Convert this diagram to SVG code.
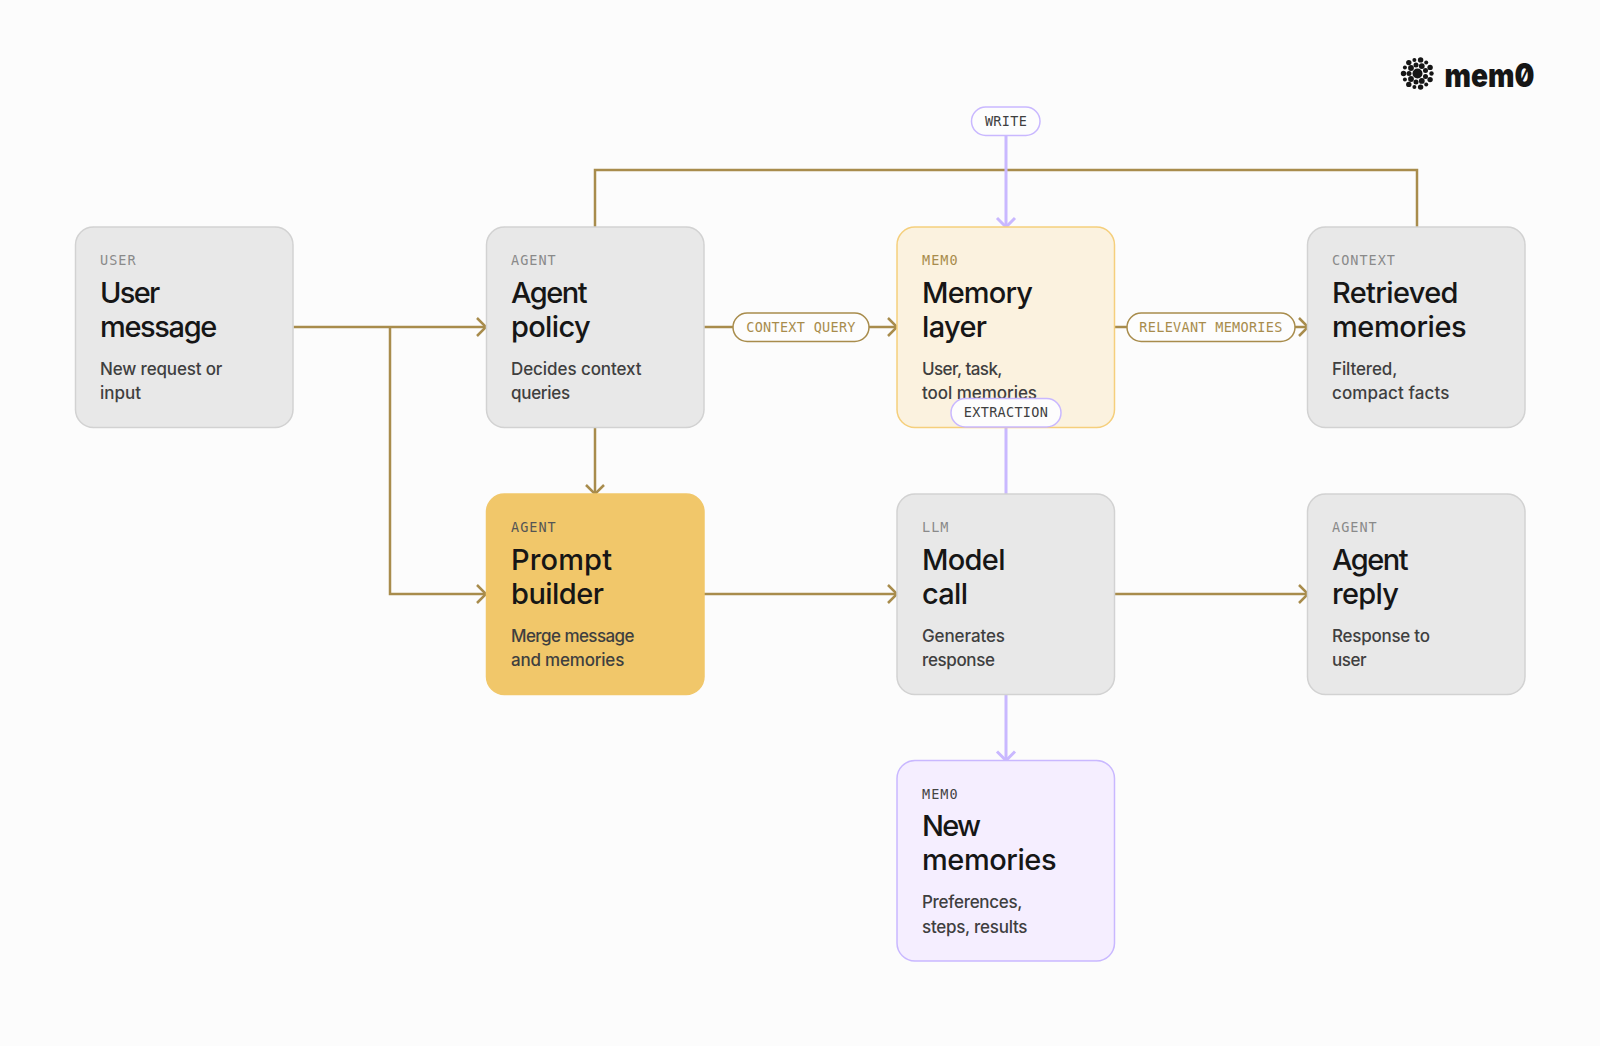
<svg xmlns="http://www.w3.org/2000/svg" width="1600" height="1046" viewBox="0 0 1600 1046">
<style>
.box{stroke-width:1.5}
.grey{fill:#e8e8e8;stroke:#d2d2d2}
.mem{fill:#fbf2df;stroke:#f5cf7c}
.pb{fill:#f1c76a;stroke:#f1c76a}
.nm{fill:#f5eeff;stroke:#c9b8ff}
.lab{font:13.500px "DejaVu Sans Mono",monospace;letter-spacing:1px}
.t{font:500 29px "Inter","Lato",sans-serif;fill:#161616}
.d{font:500 17px "Inter","Lato",sans-serif;fill:#3f3f3f}
.c{fill:none;stroke-width:2.500}
.br{stroke:#a88c4c}
.pu{stroke:#c9b8ff}
.cp{stroke-width:3}
.pill{fill:#fdfdfd;stroke-width:1.500}
.pl{font:13.500px "DejaVu Sans Mono",monospace;text-anchor:middle;letter-spacing:.3px}
</style>
<defs>
<marker id="ab" viewBox="0 0 12 22" refX="11" refY="11" markerWidth="12" markerHeight="22" markerUnits="userSpaceOnUse" orient="auto"><path d="M2 2L11 11L2 20" fill="none" stroke="#a88c4c" stroke-width="2.500"/></marker>
<marker id="ap" viewBox="0 0 12 22" refX="11" refY="11" markerWidth="12" markerHeight="22" markerUnits="userSpaceOnUse" orient="auto"><path d="M2 2L11 11L2 20" fill="none" stroke="#c9b8ff" stroke-width="3"/></marker>
</defs>
<rect width="1600" height="1046" fill="#fcfcfc"/>
<g id="connectors">
<path class="c br" d="M595 227V170H1417V227"/>
<path class="c br" d="M293.500 327H486" marker-end="url(#ab)"/>
<path class="c br" d="M390 327V594H486" marker-end="url(#ab)"/>
<path class="c br" d="M595 427V494" marker-end="url(#ab)"/>
<path class="c br" d="M704 327H897" marker-end="url(#ab)"/>
<path class="c br" d="M1115 327H1308" marker-end="url(#ab)"/>
<path class="c br" d="M704 594H897" marker-end="url(#ab)"/>
<path class="c br" d="M1115 594H1308" marker-end="url(#ab)"/>
<path class="c pu cp" d="M1006 135V227" marker-end="url(#ap)"/>
<path class="c pu cp" d="M1006 427V494"/>
<path class="c pu cp" d="M1006 694V760.500" marker-end="url(#ap)"/>
</g>
<g id="user-message"><rect class="box grey" x="75.500" y="227" width="217.500" height="200.500" rx="18"/><text class="lab" x="100" y="265" fill="#8a8a8a">USER</text><text class="t" x="100" y="303" textLength="60.200">User</text><text class="t" x="100" y="337" textLength="117.300">message</text><text class="d" x="100" y="375" textLength="122.400">New request or</text><text class="d" x="100" y="399" textLength="41">input</text></g>
<g id="agent-policy"><rect class="box grey" x="486.500" y="227" width="217.500" height="200.500" rx="18"/><text class="lab" x="511" y="265" fill="#8a8a8a">AGENT</text><text class="t" x="511" y="303" textLength="76.500">Agent</text><text class="t" x="511" y="337" textLength="79.600">policy</text><text class="d" x="511" y="375" textLength="130.600">Decides context</text><text class="d" x="511" y="399" textLength="59.200">queries</text></g>
<g id="memory-layer"><rect class="box mem" x="897" y="227" width="217.500" height="200.500" rx="18"/><text class="lab" x="922" y="265" fill="#a88c4c">MEM0</text><text class="t" x="922" y="303" textLength="111">Memory</text><text class="t" x="922" y="337" textLength="65">layer</text><text class="d" x="922" y="375" textLength="80.500">User, task,</text><text class="d" x="922" y="399" textLength="115">tool memories</text></g>
<g id="retrieved-memories"><rect class="box grey" x="1307.500" y="227" width="217.500" height="200.500" rx="18"/><text class="lab" x="1332" y="265" fill="#8a8a8a">CONTEXT</text><text class="t" x="1332" y="303" textLength="126.500">Retrieved</text><text class="t" x="1332" y="337" textLength="134.700">memories</text><text class="d" x="1332" y="375" textLength="65.300">Filtered,</text><text class="d" x="1332" y="399" textLength="117.300">compact facts</text></g>
<g id="prompt-builder"><rect class="box pb" x="486.500" y="494" width="217.500" height="200.500" rx="18"/><text class="lab" x="511" y="532" fill="#555">AGENT</text><text class="t" x="511" y="570" textLength="101">Prompt</text><text class="t" x="511" y="604" textLength="92.900">builder</text><text class="d" x="511" y="642" textLength="123.500">Merge message</text><text class="d" x="511" y="666" textLength="113.300">and memories</text></g>
<g id="model-call"><rect class="box grey" x="897" y="494" width="217.500" height="200.500" rx="18"/><text class="lab" x="922" y="532" fill="#8a8a8a">LLM</text><text class="t" x="922" y="570" textLength="83.500">Model</text><text class="t" x="922" y="604" textLength="46">call</text><text class="d" x="922" y="642" textLength="83">Generates</text><text class="d" x="922" y="666" textLength="73">response</text></g>
<g id="agent-reply"><rect class="box grey" x="1307.500" y="494" width="217.500" height="200.500" rx="18"/><text class="lab" x="1332" y="532" fill="#8a8a8a">AGENT</text><text class="t" x="1332" y="570" textLength="76.500">Agent</text><text class="t" x="1332" y="604" textLength="67">reply</text><text class="d" x="1332" y="642" textLength="98">Response to</text><text class="d" x="1332" y="666" textLength="34.700">user</text></g>
<g id="new-memories"><rect class="box nm" x="897" y="760.500" width="217.500" height="200.500" rx="18"/><text class="lab" x="922" y="799" fill="#444">MEM0</text><text class="t" x="922" y="836" textLength="59">New</text><text class="t" x="922" y="870" textLength="134.500">memories</text><text class="d" x="922" y="908" textLength="100.500">Preferences,</text><text class="d" x="922" y="933" textLength="105.500">steps, results</text></g>
<g id="pill-write"><rect class="pill pu" x="971.500" y="107" width="68.500" height="28.500" rx="14.250"/><text class="pl" x="1006" y="126" fill="#3f3f3f">WRITE</text></g>
<g id="pill-extraction"><rect class="pill pu" x="951" y="398.500" width="110" height="28.500" rx="14.250"/><text class="pl" x="1006" y="417" fill="#3f3f3f">EXTRACTION</text></g>
<g id="pill-context"><rect class="pill br" x="733" y="313" width="136" height="28.500" rx="14.250"/><text class="pl" x="801" y="332" fill="#a88c4c">CONTEXT QUERY</text></g>
<g id="pill-relevant"><rect class="pill br" x="1127" y="313" width="168" height="28.500" rx="14.250"/><text class="pl" x="1211" y="332" fill="#a88c4c">RELEVANT MEMORIES</text></g>
<g id="logo" fill="#161616">
<g transform="translate(1417.500 73.500)">
<circle r="5"/>
<circle cx="8" cy="2.900" r="2.500"/><circle cx="4.300" cy="7.400" r="2.900"/><circle cx="-1.500" cy="8.400" r="2.500"/><circle cx="-6.500" cy="5.500" r="2.900"/><circle cx="-8.500" r="2.500"/><circle cx="-6.500" cy="-5.500" r="2.900"/><circle cx="-1.500" cy="-8.400" r="2.500"/><circle cx="4.300" cy="-7.400" r="2.900"/><circle cx="8" cy="-2.900" r="2.500"/>
<circle cx="14" r="2.200"/><circle cx="12.600" cy="6.100" r="2.700"/><circle cx="8.700" cy="10.900" r="2"/><circle cx="3.100" cy="13.600" r="2.700"/><circle cx="-3.100" cy="13.600" r="2"/><circle cx="-8.700" cy="10.900" r="2.700"/><circle cx="-12.600" cy="6.100" r="2"/><circle cx="-14" r="2.700"/><circle cx="-12.600" cy="-6.100" r="2"/><circle cx="-8.700" cy="-10.900" r="2.700"/><circle cx="-3.100" cy="-13.600" r="2"/><circle cx="3.100" cy="-13.600" r="2.700"/><circle cx="8.700" cy="-10.900" r="2"/><circle cx="12.600" cy="-6.100" r="2.700"/>
</g>
<text x="1444.500" y="86.500" textLength="90" lengthAdjust="spacingAndGlyphs" style="font:900 33px 'Inter','Lato',sans-serif;font-feature-settings:'zero'">mem0</text>
</g>
</svg>
